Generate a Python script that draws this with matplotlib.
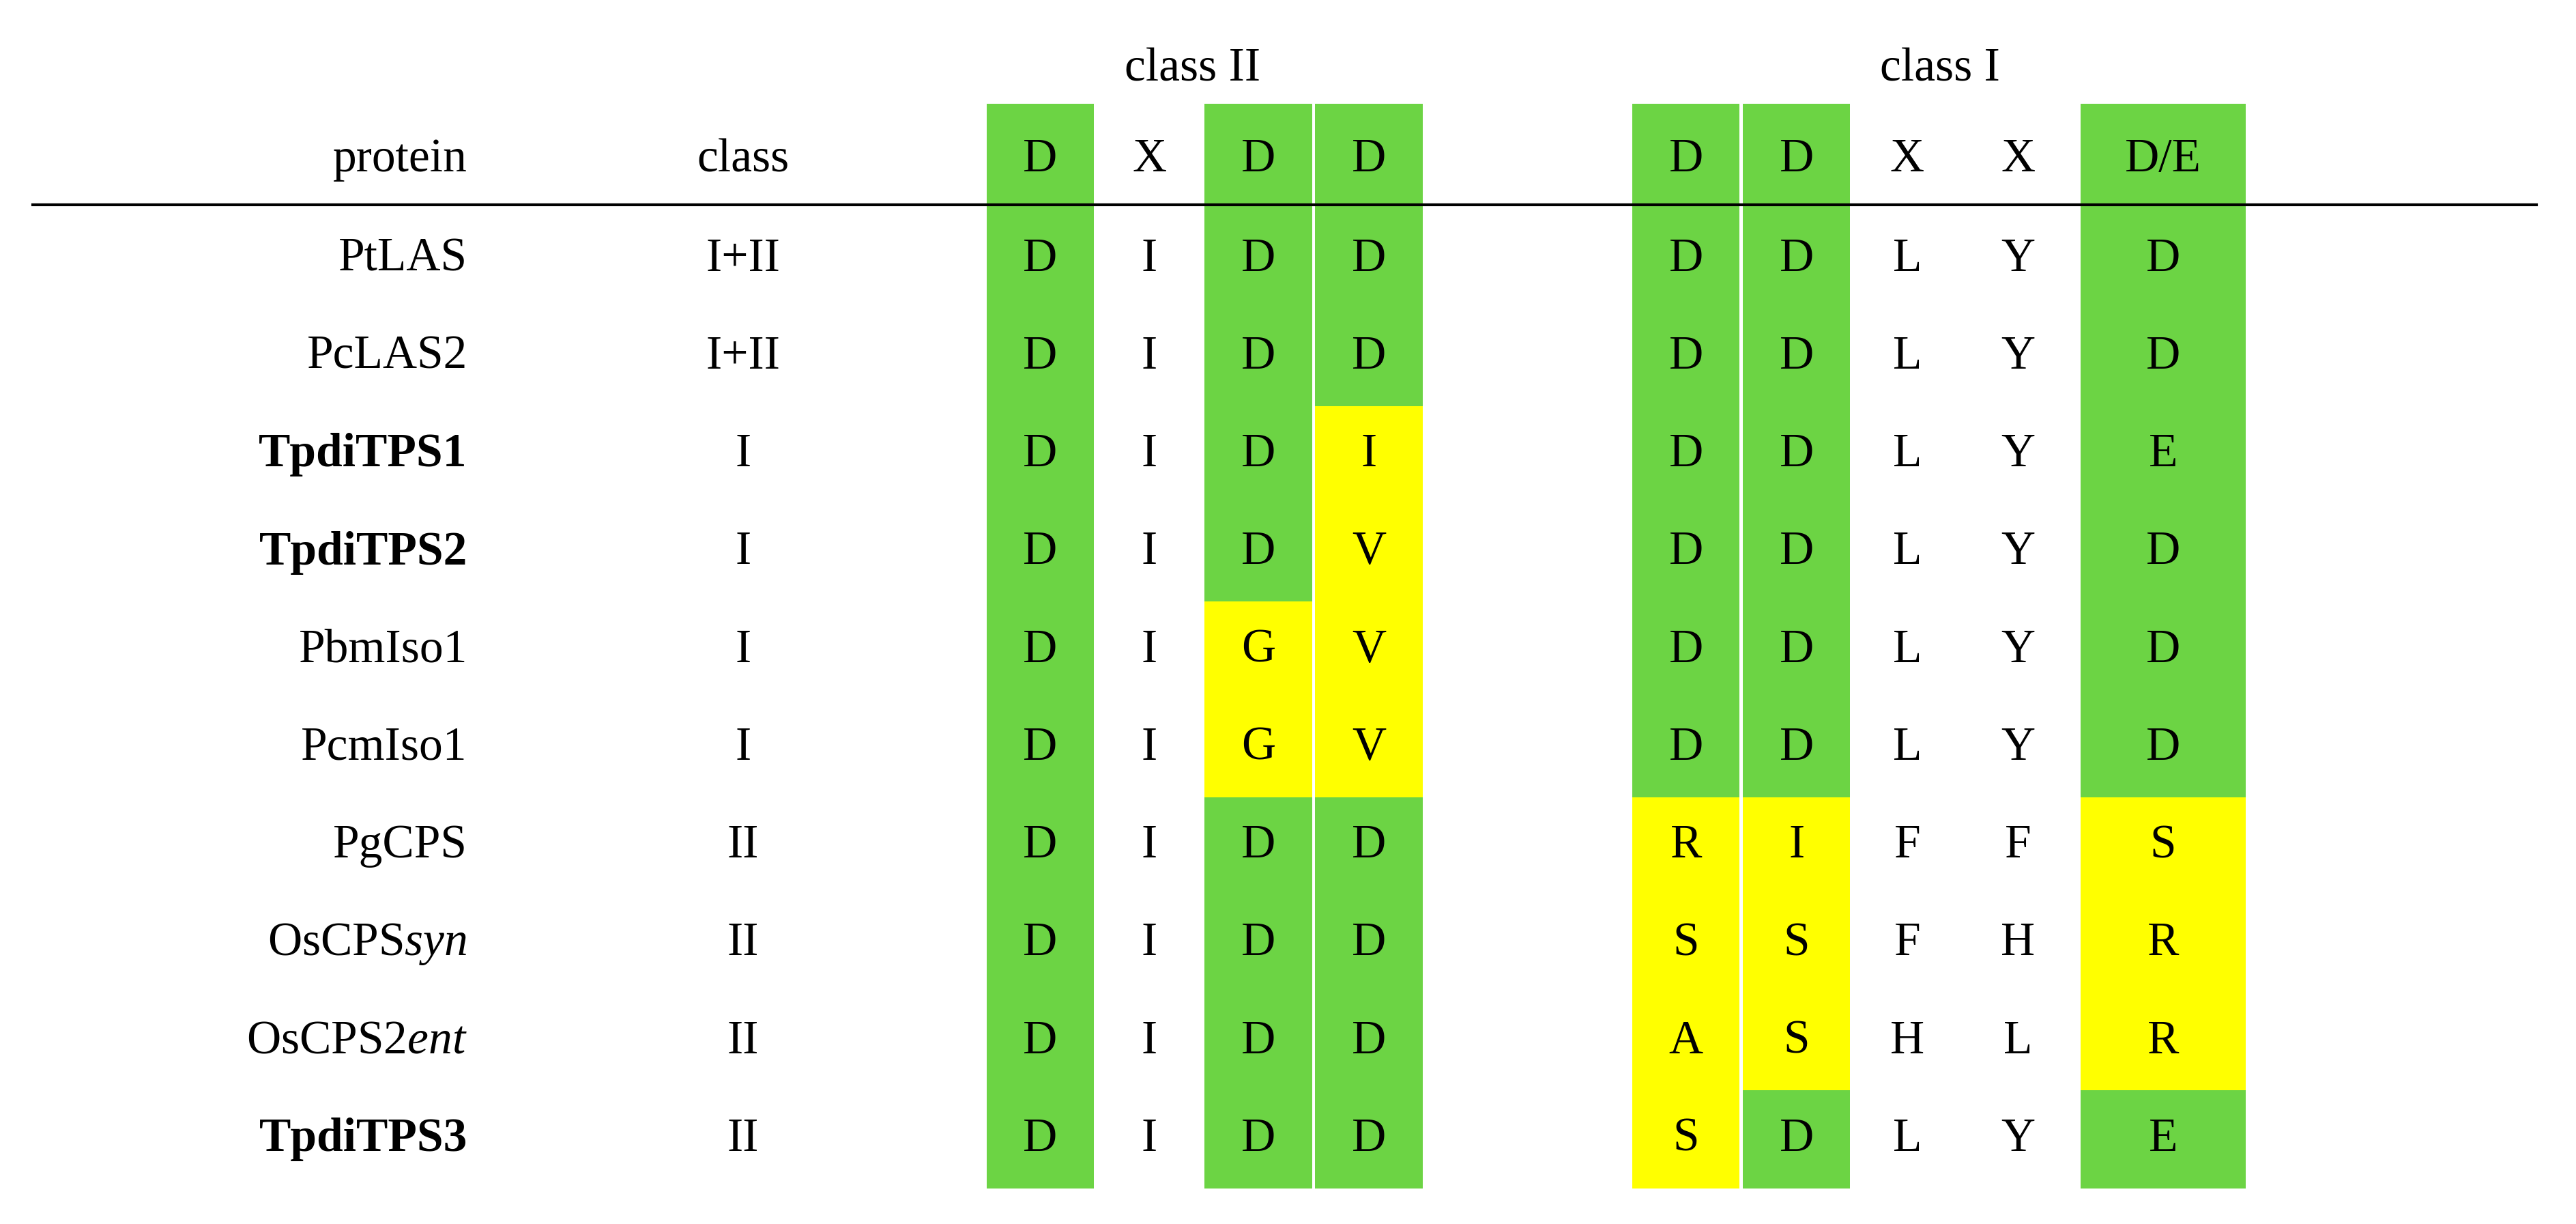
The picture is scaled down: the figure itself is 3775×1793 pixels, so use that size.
import matplotlib
matplotlib.use("Agg")
import matplotlib.pyplot as plt
from matplotlib.patches import Rectangle

plt.rcParams['font.family'] = 'Liberation Serif'
plt.rcParams['mathtext.fontset'] = 'custom'
plt.rcParams['mathtext.rm'] = 'Liberation Serif'
plt.rcParams['mathtext.it'] = 'Liberation Serif:italic'

proteins = ['PtLAS', 'PcLAS2', 'TpdiTPS1', 'TpdiTPS2', 'PbmIso1', 'PcmIso1',
            'PgCPS', r'OsCPS$\it{syn}$', r'OsCPS2$\it{ent}$', 'TpdiTPS3']
bold = [False, False, True, True, False, False, False, False, False, True]
classes = ['I+II', 'I+II', 'I', 'I', 'I', 'I', 'II', 'II', 'II', 'II']
motif_header = ['D', 'X', 'D', 'D', 'D', 'D', 'X', 'X', 'D/E']
motifs = [
    ['D', 'I', 'D', 'D', 'D', 'D', 'L', 'Y', 'D'],
    ['D', 'I', 'D', 'D', 'D', 'D', 'L', 'Y', 'D'],
    ['D', 'I', 'D', 'I', 'D', 'D', 'L', 'Y', 'E'],
    ['D', 'I', 'D', 'V', 'D', 'D', 'L', 'Y', 'D'],
    ['D', 'I', 'G', 'V', 'D', 'D', 'L', 'Y', 'D'],
    ['D', 'I', 'G', 'V', 'D', 'D', 'L', 'Y', 'D'],
    ['D', 'I', 'D', 'D', 'R', 'I', 'F', 'F', 'S'],
    ['D', 'I', 'D', 'D', 'S', 'S', 'F', 'H', 'R'],
    ['D', 'I', 'D', 'D', 'A', 'S', 'H', 'L', 'R'],
    ['D', 'I', 'D', 'D', 'S', 'D', 'L', 'Y', 'E'],
]
# g = green (conserved), y = yellow (mutated), '' = none
shading = [
    ['g', '', 'g', 'g', 'g', 'g', '', '', 'g'],
    ['g', '', 'g', 'g', 'g', 'g', '', '', 'g'],
    ['g', '', 'g', 'y', 'g', 'g', '', '', 'g'],
    ['g', '', 'g', 'y', 'g', 'g', '', '', 'g'],
    ['g', '', 'y', 'y', 'g', 'g', '', '', 'g'],
    ['g', '', 'y', 'y', 'g', 'g', '', '', 'g'],
    ['g', '', 'g', 'g', 'y', 'y', '', '', 'y'],
    ['g', '', 'g', 'g', 'y', 'y', '', '', 'y'],
    ['g', '', 'g', 'g', 'y', 'y', '', '', 'y'],
    ['g', '', 'g', 'g', 'y', 'g', '', '', 'g'],
]
header_shade = ['g', '', 'g', 'g', 'g', 'g', '', '', 'g']

colors = {'g': '#6cd444', 'y': '#ffff00'}
col_x = [630, 696, 762, 829, 1021, 1088, 1155, 1222, 1310]
col_w = [65, 65, 65, 65, 65, 65, 65, 65, 100]

fig = plt.figure(figsize=(37.75, 17.93), dpi=100)
ax = fig.add_axes([0, 0, 1, 1])
ax.set_xlim(0, 1560)
ax.set_ylim(741, 0)
ax.axis('off')

row_h = 59.2
row_y = [157 + i * row_h for i in range(len(proteins))]
fs = 50

# header cells
for j, s in enumerate(header_shade):
    if s:
        ax.add_patch(Rectangle((col_x[j] - col_w[j] / 2, 63), col_w[j], 127.5 - 63,
                               color=colors[s], lw=0))
    ax.text(col_x[j], 97, motif_header[j], ha='center', va='center', fontsize=fs)

for i, y in enumerate(row_y):
    for j in range(len(col_x)):
        s = shading[i][j]
        if s:
            ax.add_patch(Rectangle((col_x[j] - col_w[j] / 2, y - row_h / 2), col_w[j], row_h,
                                   color=colors[s], lw=0))
        ax.text(col_x[j], y, motifs[i][j], ha='center', va='center', fontsize=fs)
    ax.text(283, y, proteins[i], ha='right', va='center', fontsize=fs,
            fontweight='bold' if bold[i] else 'normal')
    ax.text(450, y, classes[i], ha='center', va='center', fontsize=fs)

ax.text(283, 97, 'protein', ha='right', va='center', fontsize=fs)
ax.text(450, 97, 'class', ha='center', va='center', fontsize=fs)
ax.text(722, 42, 'class II', ha='center', va='center', fontsize=fs)
ax.text(1175, 42, 'class I', ha='center', va='center', fontsize=fs)
ax.plot([20, 1536], [124, 124], color='black', lw=3)

fig.savefig('out.png', dpi=100)
